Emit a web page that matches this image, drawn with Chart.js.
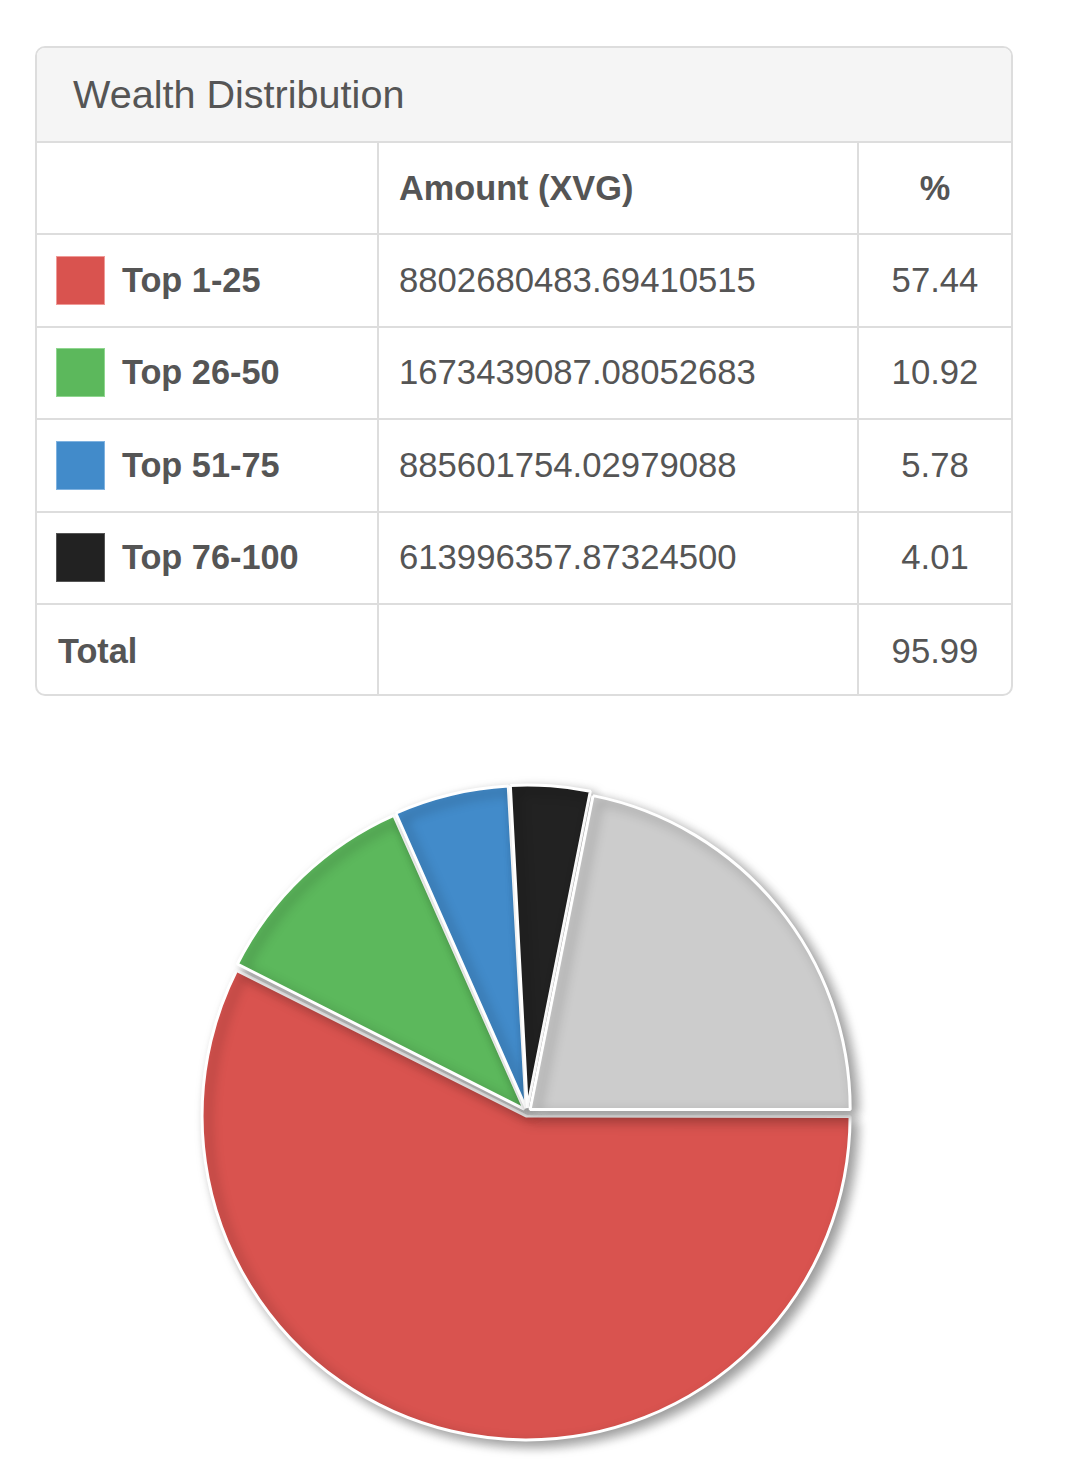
<!DOCTYPE html>
<html>
<head>
<meta charset="utf-8">
<script src="https://cdn.jsdelivr.net/npm/chart.js@4/dist/chart.umd.min.js"></script>
<style>
  html,body{margin:0;padding:0;background:#fff;width:1065px;height:1483px;overflow:hidden;}
  body{font-family:"Liberation Sans",Arial,Helvetica,sans-serif;color:#555;position:relative;}
  #panel{position:absolute;left:35px;top:46px;width:978px;height:650px;box-sizing:border-box;
    border:2px solid #ddd;border-radius:10px;overflow:hidden;background:#fff;}
  #heading{height:95px;box-sizing:border-box;background:#f5f5f5;border-bottom:2px solid #ddd;
    font-size:39.6px;line-height:93px;padding-left:36px;color:#555;}
  .row{display:flex;height:92.4px;box-sizing:border-box;border-bottom:2px solid #ddd;font-size:34.7px;}
  .row:last-child{border-bottom:none;}
  .c1{width:342px;box-sizing:border-box;border-right:2px solid #ddd;padding-left:19px;display:flex;align-items:center;}
  .c2{width:480px;box-sizing:border-box;border-right:2px solid #ddd;padding-left:20px;display:flex;align-items:center;}
  .c3{flex:1;display:flex;align-items:center;justify-content:center;}
  .b{font-weight:bold;font-size:34.3px;}
  .sw{width:49px;height:49px;box-sizing:border-box;margin-right:17px;}
  #chartWrap{position:absolute;left:177px;top:762px;width:700px;height:700px;}
</style>
</head>
<body>
<div id="panel">
  <div id="heading">Wealth Distribution</div>
  <div id="rows"></div>
</div>
<div id="chartWrap"><canvas id="c" width="700" height="700"></canvas></div>
<script>
const labels = ["Top 1-25", "Top 26-50", "Top 51-75", "Top 76-100"];
const amounts = ["8802680483.69410515", "1673439087.08052683", "885601754.02979088", "613996357.87324500"];
const percents = [57.44, 10.92, 5.78, 4.01];
const totalPercent = "95.99";
const remainderLabel = "Other";
const remainderPercent = 21.85;
const colors = ["#d9534f", "#5cb85c", "#428bca", "#222222"];
const swatchBorders = ["#f09a97", "#8fd68f", "#7fb2e0", "#555555"];
const remainderColor = "#cccccc";

// table
const rows = document.getElementById('rows');
let html = '<div class="row"><div class="c1"></div><div class="c2 b">Amount (XVG)</div><div class="c3 b">%</div></div>';
labels.forEach((l, i) => {
  html += '<div class="row"><div class="c1 b"><div class="sw" style="background:' + colors[i] +
    ';border:1px solid ' + swatchBorders[i] + '"></div>' + l + '</div><div class="c2">' + amounts[i] +
    '</div><div class="c3">' + percents[i].toFixed(2) + '</div></div>';
});
html += '<div class="row"><div class="c1 b" style="padding-left:21px">Total</div><div class="c2"></div><div class="c3">' + totalPercent + '</div></div>';
rows.innerHTML = html;

const shadowPlugin = {
  id: 'shadow',
  beforeDatasetsDraw(chart) {
    const c = chart.ctx;
    c.save();
    c.shadowColor = 'rgba(0,0,0,0.4)';
    c.shadowBlur = 12;
    c.shadowOffsetX = 6;
    c.shadowOffsetY = 5;
  },
  afterDatasetsDraw(chart) { chart.ctx.restore(); }
};

new Chart(document.getElementById('c'), {
  type: 'pie',
  data: {
    labels: labels.concat([remainderLabel]),
    datasets: [{
      data: percents.concat([remainderPercent]),
      backgroundColor: colors.concat([remainderColor]),
      borderColor: '#ffffff',
      borderWidth: 3,
      offset: 16,
      hoverOffset: 16
    }]
  },
  options: {
    responsive: false,
    animation: false,
    rotation: 90,
    radius: 320,
    events: [],
    plugins: { legend: { display: false }, tooltip: { enabled: false } }
  },
  plugins: [shadowPlugin]
});
</script>
</body>
</html>
